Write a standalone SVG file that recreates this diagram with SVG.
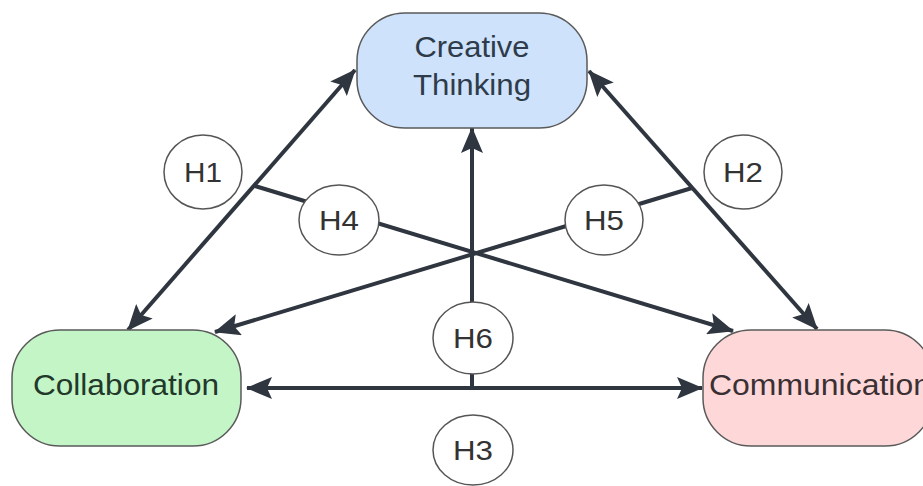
<svg xmlns="http://www.w3.org/2000/svg" width="923" height="486" viewBox="0 0 923 486">
<style>
.box{stroke:#5a5a5a;stroke-width:1.5}
.lbl{font-family:"Liberation Sans",Arial,sans-serif;font-size:29px;text-anchor:middle}
.hyp{fill:#ffffff;stroke:#555555;stroke-width:1.5}
.htxt{font-family:"Liberation Sans",Arial,sans-serif;font-size:28px;text-anchor:middle;fill:#333333}
.con{stroke:#2f3640;stroke-width:4;fill:none}
</style>
<defs>
<marker id="arr" markerUnits="userSpaceOnUse" markerWidth="26" markerHeight="22" viewBox="0 0 26 22" refX="25" refY="11" orient="auto-start-reverse">
<path d="M0,0 L26,11 L0,22 L5,11 Z" fill="#2f3640"/>
</marker>
</defs>
<rect width="923" height="486" fill="#ffffff"/>
<g id="connectors">
<line class="con" x1="128" y1="330" x2="355" y2="70" marker-start="url(#arr)" marker-end="url(#arr)"/>
<line class="con" x1="589" y1="71" x2="817" y2="329" marker-start="url(#arr)" marker-end="url(#arr)"/>
<line class="con" x1="247" y1="388" x2="702" y2="388" marker-start="url(#arr)" marker-end="url(#arr)"/>
<line class="con" x1="255" y1="186" x2="733" y2="331" marker-end="url(#arr)"/>
<line class="con" x1="692" y1="188" x2="215" y2="332" marker-end="url(#arr)"/>
<line class="con" x1="472" y1="390" x2="472" y2="128" marker-end="url(#arr)"/>
</g>
<g id="creative-thinking">
<rect class="box" x="357" y="13" width="230" height="115" rx="48" ry="48" fill="#cfe2fb"/>
<text class="lbl" x="472" y="57" fill="#2e3b4a" textLength="115" lengthAdjust="spacingAndGlyphs">Creative</text>
<text class="lbl" x="472" y="95" fill="#2e3b4a" textLength="118" lengthAdjust="spacingAndGlyphs">Thinking</text>
</g>
<g id="collaboration">
<rect class="box" x="12" y="330" width="229" height="116" rx="48" ry="48" fill="#c3f5c6"/>
<text class="lbl" x="126" y="395" fill="#22382a" textLength="186" lengthAdjust="spacingAndGlyphs">Collaboration</text>
</g>
<g id="communication">
<rect class="box" x="703" y="330" width="230" height="116" rx="48" ry="48" fill="#fed8d8"/>
<text class="lbl" x="820" y="395" fill="#3a3034" textLength="222" lengthAdjust="spacingAndGlyphs">Communication</text>
</g>
<g id="H1">
<ellipse class="hyp" cx="203" cy="172" rx="39" ry="37"/>
<text class="htxt" x="203" y="182" textLength="38" lengthAdjust="spacingAndGlyphs">H1</text>
</g>
<g id="H2">
<ellipse class="hyp" cx="743" cy="172" rx="39" ry="37"/>
<text class="htxt" x="743" y="182" textLength="40" lengthAdjust="spacingAndGlyphs">H2</text>
</g>
<g id="H4">
<ellipse class="hyp" cx="339" cy="220" rx="40" ry="35"/>
<text class="htxt" x="339" y="230" textLength="40" lengthAdjust="spacingAndGlyphs">H4</text>
</g>
<g id="H5">
<ellipse class="hyp" cx="604" cy="220" rx="39" ry="35"/>
<text class="htxt" x="604" y="230" textLength="40" lengthAdjust="spacingAndGlyphs">H5</text>
</g>
<g id="H6">
<ellipse class="hyp" cx="473" cy="338" rx="40" ry="36"/>
<text class="htxt" x="473" y="348" textLength="40" lengthAdjust="spacingAndGlyphs">H6</text>
</g>
<g id="H3">
<ellipse class="hyp" cx="473" cy="450" rx="40" ry="35"/>
<text class="htxt" x="473" y="460" textLength="40" lengthAdjust="spacingAndGlyphs">H3</text>
</g>
</svg>
